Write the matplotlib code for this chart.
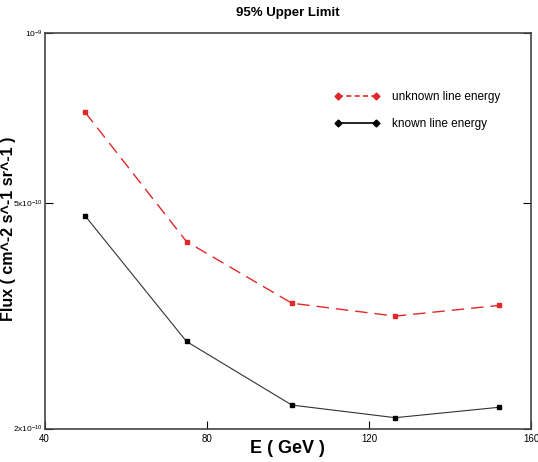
import numpy as np
import matplotlib.pyplot as plt
from matplotlib.lines import Line2D

plt.rcParams['font.family'] = ['Liberation Sans', 'DejaVu Sans']
plt.rcParams['mathtext.fontset'] = 'custom'
plt.rcParams['mathtext.rm'] = 'Liberation Sans'
plt.rcParams['mathtext.it'] = 'Liberation Sans'

# energies (GeV) and 95% upper limits on flux
energy = [50, 75, 101, 126.5, 152]
flux_unknown = [7.24e-10, 4.28e-10, 3.33e-10, 3.16e-10, 3.30e-10]
flux_known = [4.75e-10, 2.85e-10, 2.20e-10, 2.09e-10, 2.18e-10]

x_ticks = [40, 80, 120, 160]
y_ticks = [2e-10, 5e-10, 1e-9]
y_ticklabels = [r'$\mathrm{2x10^{-10}}$', r'$\mathrm{5x10^{-10}}$', r'$\mathrm{10^{-9}}$']

fig = plt.figure(figsize=(5.38, 4.62), dpi=100)
ax = fig.add_axes([0.083, 0.0725, 0.904, 0.856])

red = '#e02828'
ax.plot(energy, flux_unknown, color=red, lw=1.0, ls=(0, (9, 5)),
        marker='s', ms=3.5, mfc=red, mec=red)
ax.plot(energy, flux_known, color='#333333', lw=0.8,
        marker='s', ms=3.5, mfc='black', mec='black')

ax.set_yscale('log')
ax.set_xlim(40, 160)
ax.set_ylim(2e-10, 1e-9)
ax.set_xticks(x_ticks)
ax.set_xticklabels([str(t) for t in x_ticks], fontsize=7)
ax.set_yticks(y_ticks)
ax.set_yticklabels(y_ticklabels, fontsize=6)
ax.minorticks_off()
ax.tick_params(direction='in', length=6, width=0.8, right=True, pad=1.5)
ax.tick_params(axis='x', pad=4)
for s in ax.spines.values():
    s.set_linewidth(1.2)
    s.set_color('#444444')

fig.text(0.535, 0.972, '95% Upper Limit', ha='center', va='center',
         fontsize=9.5, fontweight='bold')
fig.text(0.535, 0.03, 'E ( GeV )', ha='center', va='center',
         fontsize=13, fontweight='bold')
fig.text(0.016, 0.505, 'Flux ( cm^-2 s^-1 sr^-1 )', ha='center', va='center',
         rotation=90, fontsize=11.5, fontweight='bold')

handles = [
    Line2D([0], [0], color=red, lw=1.2, ls=(0, (3, 2)), marker='D', ms=3.5,
           mfc=red, mec=red),
    Line2D([0], [0], color='black', lw=1.2, marker='D', ms=3.5,
           mfc='black', mec='black'),
]
ax.legend(handles, ['unknown line energy', 'known line energy'],
          loc='upper left', bbox_to_anchor=(0.575, 0.88), frameon=False,
          fontsize=8.5, numpoints=2, handlelength=3.8, handletextpad=1.0,
          labelspacing=1.3)

fig.savefig('out.png', dpi=100)
